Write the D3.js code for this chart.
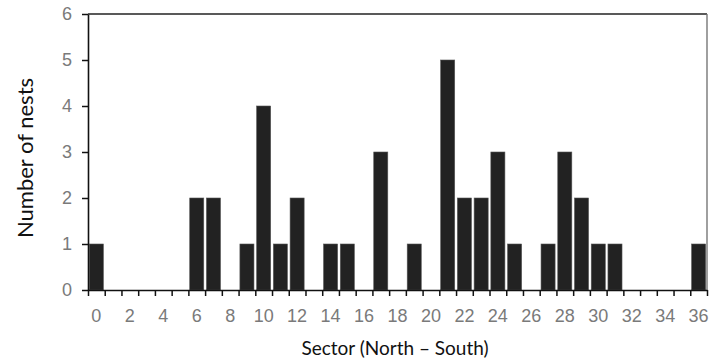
<!DOCTYPE html>
<html>
<head>
<meta charset="utf-8">
<title>Nests per sector</title>
<script src="https://cdn.jsdelivr.net/npm/d3@7"></script>
<style>
  body { margin: 0; background: #fff; }
</style>
</head>
<body>
<svg id="chart" width="710" height="362"></svg>
<script>
// sectors 0..36 and nest counts
var sectors = d3.range(0, 37);
var nests = [1, 0, 0, 0, 0, 0, 2, 2, 0, 1, 4, 1, 2, 0, 1, 1, 0, 3, 0, 1, 0, 5, 2, 2, 3, 1, 0, 1, 3, 2, 1, 1, 0, 0, 0, 0, 1];
var yTicks = [0, 1, 2, 3, 4, 5, 6];
var xLabels = d3.range(0, 37, 2);

var margin = {left: 88, right: 3, top: 14, bottom: 72};
var W = 710, H = 362;
var svg = d3.select("#chart");

var x = d3.scaleBand().domain(sectors)
  .range([margin.left, W - margin.right])
  .paddingInner(0.16).paddingOuter(0.08);
// boundary scale for the tick marks between bars
var xb = d3.scaleLinear().domain([0, sectors.length]).range([margin.left, W - margin.right]);
var y = d3.scaleLinear().domain([0, 6]).range([H - margin.bottom, margin.top]);

// bars
svg.append("g").selectAll("rect").data(sectors).enter().append("rect")
  .attr("x", function(d) { return x(d); })
  .attr("width", x.bandwidth())
  .attr("y", function(d, i) { return y(nests[i]); })
  .attr("height", function(d, i) { return y(0) - y(nests[i]); })
  .attr("fill", "#222")
  .attr("stroke", "#555")
  .attr("stroke-width", 0.6);

// frame: top black, right grey
svg.append("line").attr("x1", xb(0)).attr("x2", xb(37)).attr("y1", y(6)).attr("y2", y(6))
  .attr("stroke", "#222").attr("stroke-width", 1.6);
svg.append("line").attr("x1", xb(37)).attr("x2", xb(37)).attr("y1", y(6)).attr("y2", y(0))
  .attr("stroke", "#777").attr("stroke-width", 1.4);

// y axis
var yAxis = svg.append("g").attr("transform", "translate(" + margin.left + ",0)")
  .call(d3.axisLeft(y).tickValues(yTicks).tickFormat(d3.format("d"))
    .tickSize(6).tickPadding(10).tickSizeOuter(0));
yAxis.select(".domain").attr("stroke", "#111").attr("stroke-width", 1.6);
yAxis.selectAll(".tick line").attr("stroke", "#111").attr("stroke-width", 1.5);
yAxis.selectAll(".tick text").attr("fill", "#7a7a7a")
  .style("font-family", "'Liberation Sans', Arial, sans-serif").style("font-size", "18px");

// x axis: ticks at bar boundaries, labels every other sector
var xAxis = svg.append("g").attr("transform", "translate(0," + y(0) + ")")
  .call(d3.axisBottom(xb).tickValues(d3.range(0, 38)).tickSize(6).tickFormat("").tickSizeOuter(0));
xAxis.select(".domain").attr("stroke", "#111").attr("stroke-width", 1.6);
xAxis.selectAll(".tick line").attr("stroke", "#111").attr("stroke-width", 1.5);

svg.append("g").selectAll("text").data(xLabels).enter().append("text")
  .attr("x", function(d) { return x(d) + x.bandwidth() / 2; })
  .attr("y", y(0) + 32)
  .attr("text-anchor", "middle")
  .attr("fill", "#7a7a7a")
  .style("font-family", "'Liberation Sans', Arial, sans-serif").style("font-size", "18px")
  .text(function(d) { return d; });

// axis titles
svg.append("text")
  .attr("x", 395).attr("y", 355)
  .attr("text-anchor", "middle")
  .attr("fill", "#111")
  .style("font-family", "Lato, 'Open Sans', sans-serif").style("font-size", "19px")
  .text("Sector (North \u2013 South)");

svg.append("text")
  .attr("transform", "translate(33,158) rotate(-90)")
  .attr("text-anchor", "middle")
  .attr("fill", "#111")
  .style("font-family", "Lato, 'Open Sans', sans-serif").style("font-size", "22px")
  .text("Number of nests");
</script>
</body>
</html>
